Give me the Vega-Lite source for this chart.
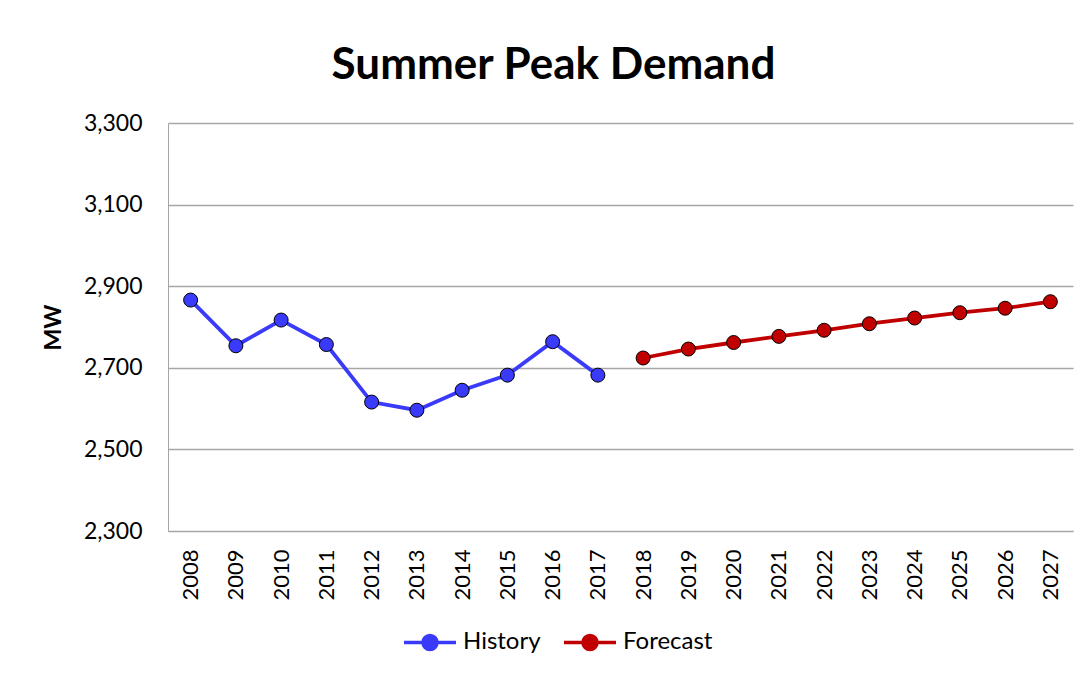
{
  "$schema": "https://vega.github.io/schema/vega-lite/v6.json",
  "width": 905,
  "height": 408,
  "autosize": {"type": "none"},
  "padding": {"left": 168, "top": 123, "right": 18, "bottom": 146},
  "background": "white",
  "config": {
    "font": "Lato",
    "view": {"stroke": null}
  },
  "title": {
    "text": "Summer Peak Demand",
    "font": "Lato",
    "fontSize": 44,
    "fontWeight": "bold",
    "color": "black",
    "anchor": "middle",
    "dx": -67,
    "offset": 24
  },
  "data": {
    "values": [
      {"year": "2008", "series": "History", "mw": 2866},
      {"year": "2009", "series": "History", "mw": 2754},
      {"year": "2010", "series": "History", "mw": 2817},
      {"year": "2011", "series": "History", "mw": 2757},
      {"year": "2012", "series": "History", "mw": 2616},
      {"year": "2013", "series": "History", "mw": 2596},
      {"year": "2014", "series": "History", "mw": 2645},
      {"year": "2015", "series": "History", "mw": 2682},
      {"year": "2016", "series": "History", "mw": 2764},
      {"year": "2017", "series": "History", "mw": 2682},
      {"year": "2018", "series": "Forecast", "mw": 2724},
      {"year": "2019", "series": "Forecast", "mw": 2746},
      {"year": "2020", "series": "Forecast", "mw": 2762},
      {"year": "2021", "series": "Forecast", "mw": 2777},
      {"year": "2022", "series": "Forecast", "mw": 2792},
      {"year": "2023", "series": "Forecast", "mw": 2808},
      {"year": "2024", "series": "Forecast", "mw": 2822},
      {"year": "2025", "series": "Forecast", "mw": 2835},
      {"year": "2026", "series": "Forecast", "mw": 2846},
      {"year": "2027", "series": "Forecast", "mw": 2862}
    ]
  },
  "encoding": {
    "x": {
      "field": "year",
      "type": "ordinal",
      "scale": {"type": "point", "padding": 0.5},
      "axis": {
        "title": null,
        "labelAngle": -90,
        "labelFont": "Liberation Sans Narrow, Lato",
        "labelFontSize": 22,
        "labelColor": "black",
        "labelPadding": 18,
        "ticks": false,
        "domainColor": "#A6A6A6",
        "domainWidth": 1,
        "grid": false
      }
    },
    "y": {
      "field": "mw",
      "type": "quantitative",
      "scale": {"domain": [2300, 3300], "nice": false, "zero": false},
      "axis": {
        "title": "MW",
        "titleFont": "Lato",
        "titleFontSize": 23,
        "titleFontWeight": "bold",
        "titleColor": "black",
        "titlePadding": 18,
        "values": [2300, 2500, 2700, 2900, 3100, 3300],
        "format": ",.0f",
        "labelFontSize": 23,
        "labelColor": "black",
        "labelPadding": 26,
        "ticks": false,
        "domainColor": "#A6A6A6",
        "domainWidth": 1,
        "gridColor": "#A6A6A6",
        "gridWidth": 1.3
      }
    },
    "color": {
      "field": "series",
      "type": "nominal",
      "scale": {"domain": ["History", "Forecast"], "range": ["#3A3AFA", "#C00000"]},
      "legend": {
        "title": null,
        "orient": "none",
        "direction": "horizontal",
        "legendX": 234,
        "legendY": 491,
        "labelFontSize": 24,
        "labelColor": "black",
        "labelOffset": 5,
        "columnPadding": 16,
        "symbolType": "M-1,0L-0.27,0M0.27,0L1,0M0.27,0A0.27,0.27,0,1,1,-0.27,0A0.27,0.27,0,1,1,0.27,0Z",
        "symbolSize": 2704,
        "symbolStrokeWidth": 3.5,
        "symbolOpacity": 1,
        "encode": {
          "symbols": {
            "update": {
              "fill": {"scale": "color", "field": "value"},
              "stroke": {"scale": "color", "field": "value"},
              "strokeWidth": {"value": 3.5},
              "opacity": {"value": 1}
            }
          }
        }
      }
    }
  },
  "layer": [
    {
      "mark": {"type": "line", "strokeWidth": 3.8}
    },
    {
      "mark": {"type": "point", "filled": true, "size": 196, "stroke": "black", "strokeWidth": 1, "opacity": 1}
    }
  ]
}
